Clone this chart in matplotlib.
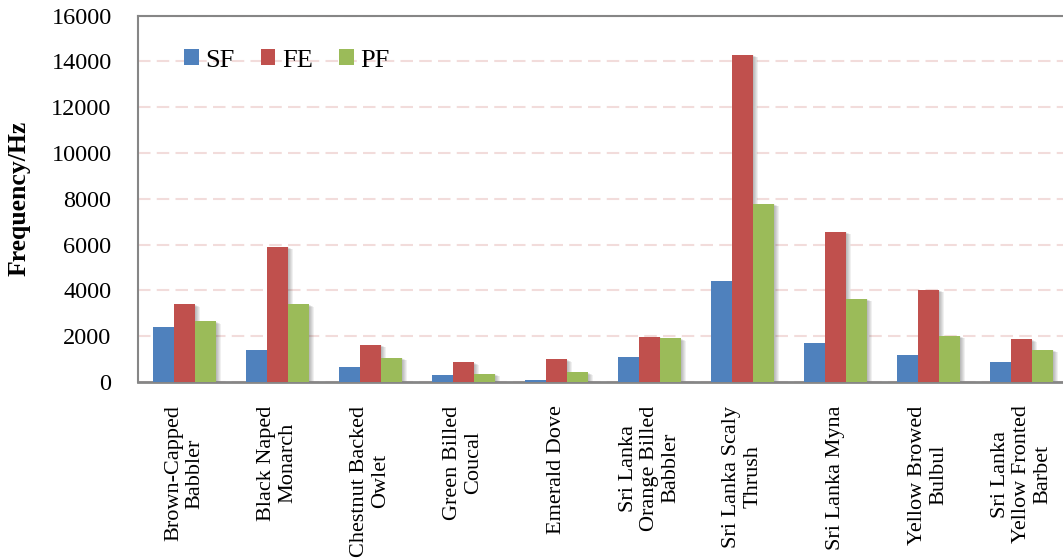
import numpy as np
import matplotlib.pyplot as plt
from matplotlib.transforms import ScaledTranslation

plt.rcParams['font.family'] = ['Liberation Serif', 'DejaVu Serif']

# bird species on the x axis
species = [
    "Brown-Capped\nBabbler",
    "Black Naped\nMonarch",
    "Chestnut Backed\nOwlet",
    "Green Billed\nCoucal",
    "Emerald Dove",
    "Sri Lanka\nOrange Billed\nBabbler",
    "Sri Lanka Scaly\nThrush",
    "Sri Lanka Myna",
    "Yellow Browed\nBulbul",
    "Sri Lanka\nYellow Fronted\nBarbet",
]

# frequency values (Hz) per feature
sf = [2400, 1400, 670, 300, 100, 1100, 4420, 1690, 1180, 860]
fe = [3400, 5900, 1620, 870, 1000, 1980, 14280, 6550, 4020, 1870]
pf = [2660, 3400, 1050, 350, 430, 1920, 7780, 3630, 2010, 1400]

series = [("SF", sf, "#4F81BD"), ("FE", fe, "#C0504D"), ("PF", pf, "#9BBB59")]

fig = plt.figure(figsize=(10.63, 5.58), dpi=100)
ax = fig.add_axes([138 / 1063, 1 - 382 / 558, 930 / 1063, 366.5 / 558])

x = np.arange(len(species))
w = 0.226

# soft drop shadows behind the bars
for i, (name, vals, col) in enumerate(series):
    for k in range(1, 6):
        off = ScaledTranslation(k / 100, -k / 200, fig.dpi_scale_trans)
        ax.bar(x + (i - 1) * w, vals, w, color="black", alpha=0.06,
               transform=ax.transData + off, zorder=1, linewidth=0)

for i, (name, vals, col) in enumerate(series):
    ax.bar(x + (i - 1) * w, vals, w, color=col, label=name, zorder=3,
           linewidth=0)

ax.set_xlim(-0.5, 9.5)
ax.set_ylim(0, 16000)
ax.set_yticks(range(0, 16001, 2000))
ax.yaxis.grid(True, color="#F2DCDB", linewidth=1.5, linestyle=(0, (6, 3)))
ax.set_axisbelow(True)

ax.set_xticks(x)
ax.set_xticklabels(species, rotation=90, ha="center", va="top",
                   multialignment="center", fontsize=16, linespacing=1.15)
ax.tick_params(axis="x", length=0, pad=17)
ax.tick_params(axis="y", length=0, pad=19, labelsize=17.5)

for side in ["left", "top", "bottom", "right"]:
    ax.spines[side].set_color("#868686")
    ax.spines[side].set_linewidth(1.5)
ax.spines["bottom"].set_linewidth(2)

ax.set_ylabel("Frequency/Hz", fontsize=18.5, fontweight="bold")
ax.yaxis.set_label_coords(-0.116, 0.5)

ax.legend(loc="center left", bbox_to_anchor=(0.0495, 0.877), ncol=3,
          frameon=False, fontsize=19, borderpad=0, borderaxespad=0,
          handlelength=0.55, handleheight=0.55, handletextpad=0.25,
          columnspacing=1.0)

plt.savefig("out.png", dpi=100)
